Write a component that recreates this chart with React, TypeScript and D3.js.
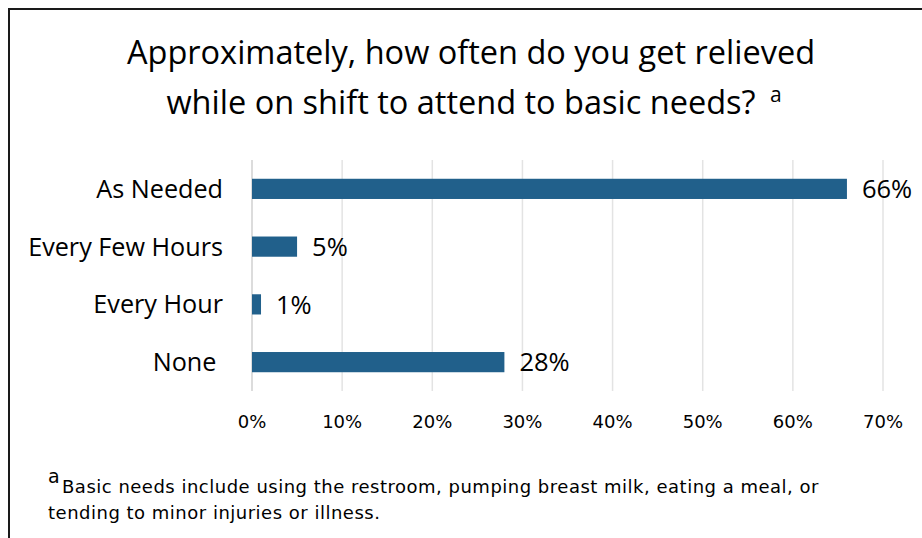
import React from "react";
import * as d3 from "d3";

const categories = ["As Needed", "Every Few Hours", "Every Hour", "None"];
const values = [66, 5, 1, 28];
const valueLabels = ["66%", "5%", "1%", "28%"];
const xTicks = [0, 10, 20, 30, 40, 50, 60, 70];
const titleLines = ["Approximately, how often do you get relieved", "while on shift to attend to basic needs?"];
const footnoteLines = ["Basic needs include using the restroom, pumping breast milk, eating a meal, or", "tending to minor injuries or illness."];

const W = 922;
const H = 538;

export default function App() {
  const x = d3.scaleLinear().domain([0, 70]).range([252, 883]);
  const y = d3.scaleBand<string>().domain(categories).range([160, 391]).paddingInner(0.65).paddingOuter(0.325);
  const barColor = "#21608b";
  const titleFont = "'Open Sans', sans-serif";
  const tickFont = "'DejaVu Sans', sans-serif";
  return (
    <svg width={W} height={H} style={{ position: "absolute", left: 0, top: 0, background: "#fff" }}>
      <rect x={9} y={9} width={W + 20} height={H + 20} fill="#fff" stroke="#1a1a1a" strokeWidth={2} />
      <text x={471} y={64} textAnchor="middle" fontFamily={titleFont} fontSize={32.5} fill="#000">
        {titleLines[0]}
      </text>
      <text x={461} y={114} textAnchor="middle" fontFamily={titleFont} fontSize={32.5} fill="#000">
        {titleLines[1]}
      </text>
      <text x={770} y={102} fontFamily={titleFont} fontSize={21} fill="#000">a</text>
      {xTicks.map((t) => (
        <line key={"g" + t} x1={x(t)} x2={x(t)} y1={160} y2={391} stroke={t === 0 ? "#d0d0d0" : "#e3e3e3"} strokeWidth={1.5} />
      ))}
      {categories.map((c, i) => (
        <g key={c}>
          <rect x={x(0)} y={y(c)!} width={x(values[i]) - x(0)} height={y.bandwidth()} fill={barColor} />
          <text x={x(values[i]) + 15} y={y(c)! + y.bandwidth() / 2} dy="0.36em" fontFamily={titleFont} fontSize={25.5} fill="#000">
            {valueLabels[i]}
          </text>
          <text x={223} y={y(c)! + y.bandwidth() / 2} dy="0.36em" textAnchor="end" fontFamily={titleFont} fontSize={25.2} fill="#000">
            {c === "None" ? "None\u00a0" : c}
          </text>
        </g>
      ))}
      {xTicks.map((t) => (
        <text key={"t" + t} x={x(t)} y={422} dy="0.36em" textAnchor="middle" fontFamily={tickFont} fontSize={18} fill="#000">
          {t + "%"}
        </text>
      ))}
      <text x={48} y={483} fontFamily={tickFont} fontSize={19} fill="#000">a</text>
      <text x={62} y={493} fontFamily={tickFont} fontSize={18} letterSpacing={0.5} fill="#000">{footnoteLines[0]}</text>
      <text x={48} y={519} fontFamily={tickFont} fontSize={18} letterSpacing={0.5} fill="#000">{footnoteLines[1]}</text>
    </svg>
  );
}
